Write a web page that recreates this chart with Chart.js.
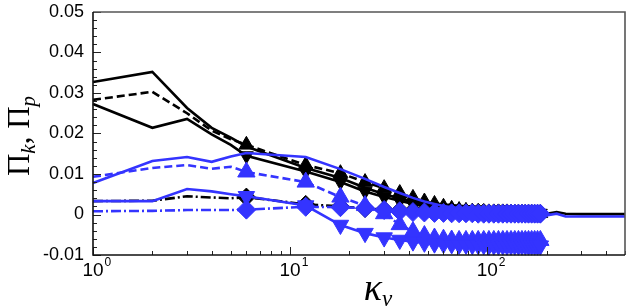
<!DOCTYPE html>
<html>
<head>
<meta charset="utf-8">
<script src="https://cdn.jsdelivr.net/npm/chart.js@4.4.1/dist/chart.umd.min.js"></script>
<style>
  html, body { margin: 0; padding: 0; background: #fff; }
  canvas { display: block; }
</style>
</head>
<body>
<canvas id="fluxChart" width="636" height="308"></canvas>
<script>
// wavenumbers of the plotted points (markers every 6th wavenumber from 6 on)
const kv = [1, 2, 3, 4, 5, 6, 12, 18, 24, 30, 36, 42, 48, 54, 60, 66, 72, 78, 84, 90,
  96, 102, 108, 114, 120, 126, 132, 138, 144, 150, 156, 162, 168, 174, 180, 186];
const kvTail = [200, 225, 250, 300, 400, 500];

// black curves
const blackSolidUpper = [0.0327, 0.0352, 0.0263, 0.0214, 0.0190, 0.0168, 0.0115, 0.0090, 0.0066, 0.0050,
  0.0040, 0.0032, 0.0026, 0.0022, 0.0019, 0.0017, 0.0015, 0.0014, 0.0013, 0.0012,
  0.0011, 0.0010, 0.0009, 0.0009, 0.0008, 0.0008, 0.0007, 0.0007, 0.0006, 0.0006,
  0.0005, 0.0005, 0.0005, 0.0004, 0.0004, 0.0004];
const blackSolidUpperTail = [0.0002, 0.0006, 0.0002, 0.0001, 0.0001, 0.0001];
const blackDashed = [0.0283, 0.0303, 0.0250, 0.0207, 0.0186, 0.0172, 0.0122, 0.0102, 0.0080, 0.0065,
  0.0053, 0.0041, 0.0032, 0.0026, 0.0019, 0.0014, 0.0011, 0.0009, 0.0007, 0.0006,
  0.0005, 0.0005, 0.0004, 0.0004, 0.0004, 0.0004, 0.0003, 0.0003, 0.0003, 0.0003,
  0.0003, 0.0003, 0.0003, 0.0003, 0.0003, 0.0003];
const blackSolidLower = [0.0273, 0.0214, 0.0236, 0.0198, 0.0172, 0.0145, 0.0106, 0.0080, 0.0057, 0.0043,
  0.0034, 0.0026, 0.0021, 0.0018, 0.0016, 0.0014, 0.0013, 0.0012, 0.0011, 0.0010,
  0.0009, 0.0009, 0.0008, 0.0008, 0.0007, 0.0007, 0.0006, 0.0006, 0.0006, 0.0005,
  0.0005, 0.0005, 0.0004, 0.0004, 0.0004, 0.0003];
const blackDashDot = [0.0033, 0.0034, 0.0045, 0.0042, 0.0040, 0.0043, 0.0025, 0.0020, 0.0015, 0.0012,
  0.0010, 0.0009, 0.0008, 0.0007, 0.0007, 0.0006, 0.0006, 0.0005, 0.0005, 0.0005,
  0.0005, 0.0004, 0.0004, 0.0004, 0.0004, 0.0004, 0.0003, 0.0003, 0.0003, 0.0003,
  0.0003, 0.0003, 0.0003, 0.0002, 0.0002, 0.0002];

// blue curves
const blueSolidUpper = [0.0078, 0.0132, 0.0142, 0.0130, 0.0143, 0.0152, 0.0142, 0.0112, 0.0088, 0.0068,
  0.0053, 0.0041, 0.0032, 0.0026, 0.0021, 0.0018, 0.0016, 0.0014, 0.0013, 0.0012,
  0.0011, 0.0010, 0.0009, 0.0009, 0.0008, 0.0008, 0.0007, 0.0007, 0.0006, 0.0006,
  0.0006, 0.0005, 0.0005, 0.0005, 0.0004, 0.0004];
const blueSolidUpperTail = [-0.0002, 0.0002, -0.0005, -0.0005, -0.0005, -0.0005];
const blueDashed = [0.0093, 0.0115, 0.0122, 0.0113, 0.0118, 0.0105, 0.0080, 0.0043, 0.0022, 0.0002,
  -0.0025, -0.0042, -0.0052, -0.0058, -0.0061, -0.0063, -0.0064, -0.0064, -0.0064, -0.0064,
  -0.0064, -0.0064, -0.0064, -0.0064, -0.0064, -0.0064, -0.0064, -0.0064, -0.0064, -0.0064,
  -0.0064, -0.0064, -0.0064, -0.0064, -0.0064, -0.0064];
const blueSolidLower = [0.0033, 0.0033, 0.0063, 0.0057, 0.0050, 0.0045, 0.0022, -0.0026, -0.0046, -0.0057,
  -0.0063, -0.0067, -0.0070, -0.0072, -0.0073, -0.0074, -0.0075, -0.0075, -0.0076, -0.0076,
  -0.0076, -0.0077, -0.0077, -0.0077, -0.0077, -0.0077, -0.0077, -0.0077, -0.0077, -0.0077,
  -0.0077, -0.0077, -0.0077, -0.0077, -0.0077, -0.0077];
const blueDashDot = [0.0008, 0.0009, 0.0011, 0.0011, 0.0011, 0.0012, 0.0019, 0.0018, 0.0016, 0.0011,
  0.0008, 0.0006, 0.0005, 0.0004, 0.0004, 0.0003, 0.0003, 0.0003, 0.0003, 0.0002,
  0.0002, 0.0002, 0.0002, 0.0002, 0.0002, 0.0002, 0.0002, 0.0002, 0.0002, 0.0002,
  0.0002, 0.0002, 0.0002, 0.0002, 0.0002, 0.0002];

const yTicks = [-0.01, 0, 0.01, 0.02, 0.03, 0.04, 0.05];
const xMajorTicks = [1, 10, 100];
const xTickExponents = ["0", "1", "2"];

const BLUE = "#3434ff";
const BLACK = "#000000";

function pts(xs, ys) {
  return xs.map((x, i) => ({ x: x, y: ys[i] }));
}

// markers only on the every-6th points, not on the first five or the tail
function markerRadius(r) {
  return (c) => (c.dataIndex >= 5 && c.dataIndex < kv.length ? r : 0);
}

function series(data, color, dash, style, r, rot) {
  return {
    data: data,
    borderColor: color,
    backgroundColor: color,
    borderWidth: 2.6,
    borderDash: dash,
    pointStyle: style || false,
    pointRadius: style ? markerRadius(r) : 0,
    pointRotation: rot || 0,
    pointBorderColor: color,
    pointBackgroundColor: color,
    pointBorderWidth: 1,
    tension: 0,
    clip: 12,
  };
}

const DASH = [8, 4];
const DASHDOT = [10, 3, 2, 3];

// first dataset is drawn on top
const datasets = [
  series(pts(kv, blueDashDot), BLUE, DASHDOT, "rectRot", 9.5),
  series(pts(kv, blueSolidLower), BLUE, [], "triangle", 9.5, 180),
  series(pts(kv, blueDashed), BLUE, DASH, "triangle", 10),
  series(pts(kv.concat(kvTail), blueSolidUpper.concat(blueSolidUpperTail)), BLUE, [], null),
  series(pts(kv, blackDashDot), BLACK, DASHDOT, "rectRot", 9),
  series(pts(kv, blackSolidLower), BLACK, [], "triangle", 8, 180),
  series(pts(kv, blackDashed), BLACK, DASH, "triangle", 8.5),
  series(pts(kv.concat(kvTail), blackSolidUpper.concat(blackSolidUpperTail)), BLACK, [], null),
];

const frameAndTicks = {
  id: "frameAndTicks",
  afterDatasetsDraw(chart) {
    const c = chart.ctx;
    const a = chart.chartArea;
    const xs = chart.scales.x;
    const ys = chart.scales.y;
    c.save();

    // inward ticks
    c.strokeStyle = "#222";
    c.lineWidth = 1;
    c.beginPath();
    for (let v = -0.01; v <= 0.0501; v += 0.002) {
      const y = Math.round(ys.getPixelForValue(v)) + 0.5;
      const major = Math.abs(Math.round(v * 100) - v * 100) < 1e-6;
      c.moveTo(a.left, y);
      c.lineTo(a.left + (major ? 8 : 4), y);
    }
    for (let d = 1; d <= 100; d *= 10) {
      for (let m = 1; m <= 9; m++) {
        const v = d * m;
        if (v > 500) break;
        const x = Math.round(xs.getPixelForValue(v)) + 0.5;
        c.moveTo(x, a.bottom);
        c.lineTo(x, a.bottom - (m === 1 ? 8 : 4));
      }
    }
    c.stroke();

    // frame
    c.lineWidth = 1.6;
    c.strokeStyle = "#555";
    c.beginPath();
    c.moveTo(a.left, a.top);
    c.lineTo(a.right, a.top);
    c.lineTo(a.right, a.bottom);
    c.stroke();
    c.strokeStyle = "#111";
    c.beginPath();
    c.moveTo(a.left, a.top);
    c.lineTo(a.left, a.bottom);
    c.lineTo(a.right, a.bottom);
    c.stroke();

    // y tick labels
    c.fillStyle = "#000";
    c.font = '18px "Liberation Sans", Arial, sans-serif';
    c.textAlign = "right";
    c.textBaseline = "middle";
    yTicks.forEach((v) => {
      const label = v === 0 ? "0" : v.toFixed(2);
      c.fillText(label, a.left - 9, ys.getPixelForValue(v));
    });

    // x tick labels 10^n
    xMajorTicks.forEach((v, i) => {
      const x = xs.getPixelForValue(v);
      c.font = '19px "Liberation Sans", Arial, sans-serif';
      c.textAlign = "center";
      c.textBaseline = "alphabetic";
      c.fillText("10", x, a.bottom + 21);
      const w = c.measureText("10").width;
      c.font = '12px "Liberation Sans", Arial, sans-serif';
      c.textAlign = "left";
      c.fillText(xTickExponents[i], x + w / 2 + 1, a.bottom + 11);
    });

    // x axis title: kappa_v
    const xc = 378;
    c.font = 'italic 38px "Liberation Serif", serif';
    const wk = c.measureText("κ").width;
    c.font = 'italic 23px "Liberation Serif", serif';
    const wv = c.measureText("v").width;
    let x0 = xc - (wk + wv) / 2;
    c.textAlign = "left";
    c.font = 'italic 38px "Liberation Serif", serif';
    c.fillText("κ", x0, 300);
    c.font = 'italic 23px "Liberation Serif", serif';
    c.fillText("v", x0 + wk, 306);

    // y axis title: Pi_k, Pi_p (rotated)
    const parts = [
      { t: "Π", f: '31px "Liberation Serif", serif', dy: 0 },
      { t: "k", f: 'italic 21px "Liberation Serif", serif', dy: 6 },
      { t: ", ", f: '31px "Liberation Serif", serif', dy: 0 },
      { t: "Π", f: '31px "Liberation Serif", serif', dy: 0 },
      { t: "p", f: 'italic 21px "Liberation Serif", serif', dy: 6 },
    ];
    let total = 0;
    parts.forEach((p) => { c.font = p.f; p.w = c.measureText(p.t).width; total += p.w; });
    c.translate(29, 136);
    c.rotate(-Math.PI / 2);
    let px = -total / 2;
    parts.forEach((p) => {
      c.font = p.f;
      c.fillText(p.t, px, p.dy);
      px += p.w;
    });

    c.restore();
  },
};

const ctx = document.getElementById("fluxChart").getContext("2d");
new Chart(ctx, {
  type: "line",
  data: { datasets: datasets },
  options: {
    responsive: false,
    animation: false,
    layout: { padding: { left: 93, right: 11, top: 12, bottom: 53 } },
    plugins: { legend: { display: false }, tooltip: { enabled: false } },
    scales: {
      x: {
        type: "logarithmic",
        min: 1,
        max: 500,
        ticks: { display: false },
        grid: { display: false, drawTicks: false },
        border: { display: false },
      },
      y: {
        type: "linear",
        min: -0.01,
        max: 0.05,
        ticks: { display: false },
        grid: { display: false, drawTicks: false },
        border: { display: false },
      },
    },
  },
  plugins: [frameAndTicks],
});
</script>
</body>
</html>
